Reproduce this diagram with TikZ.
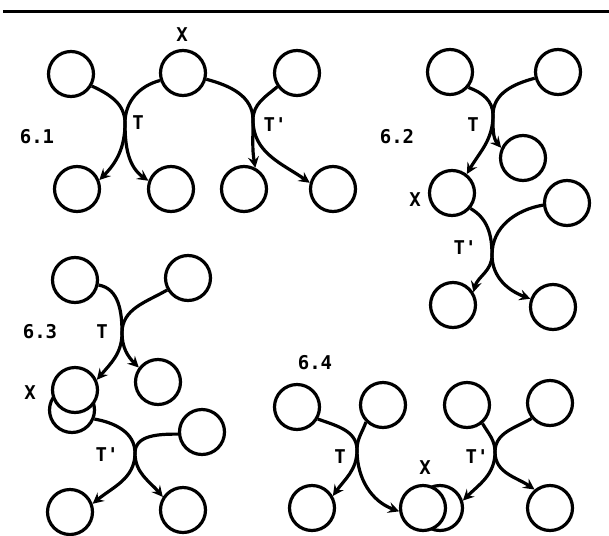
\documentclass[tikz,border=0pt]{standalone}
\usepackage{fontspec}
\setmonofont{DejaVu Sans Mono}
\usepackage{tikz}
\usetikzlibrary{arrows.meta}

\begin{document}
\begin{tikzpicture}[x=1pt,y=-1pt,
		state/.style={circle,draw,line width=3.2pt,minimum size=45pt,inner sep=0pt,fill=white},
		trans/.style={line width=3.2pt,-{Stealth[length=11pt,width=11pt,inset=4pt]}},
		lbl/.style={font=\ttfamily\bfseries\fontsize{19}{21}\selectfont,inner sep=0pt}]
			\useasboundingbox (0,0) rectangle (609,535);
			\draw[line width=3pt] (3,12) -- (609,12);
			
			% 6.1
			\node[lbl] (n61) at (37,137) {6.1};
			\node[state] (a1) at (71,74) {};
			\node[state] (x1) at (183,73) {};
			\node[state] (b1) at (297,73) {};
			\node[state] (c1) at (77,189) {};
			\node[state] (d1) at (171,189) {};
			\node[state] (e1) at (244,189) {};
			\node[state] (f1) at (333,189) {};
			\node[lbl] (lx1) at (182,35) {X};
			\node[lbl] (lt1) at (138,123) {T};
			\node[lbl] (lu1) at (275,125) {T'};
			\coordinate (t1) at (125,123);
			\coordinate (u1) at (253,120);
			\draw[trans] (a1.-30) to[out=-25,in=90] (t1) to[out=-90,in=145] (d1.160);
			\draw[trans] (x1.198) to[out=195,in=90] (t1) to[out=-90,in=45] (c1.22);
			\draw[trans] (x1.-15) to[out=-15,in=90] (u1) to[out=-90,in=145] (f1.165);
			\draw[trans] (b1.215) to[out=220,in=90] (u1) to[out=-90,in=100] (e1.62);
			
			% 6.2
			\node[lbl] (n62) at (397,137) {6.2};
			\node[state] (a2) at (450,72) {};
			\node[state] (b2) at (558,72) {};
			\node[state] (m2) at (523,158) {};
			\node[state] (x2) at (452,193) {};
			\node[state] (r2) at (567,203) {};
			\node[state] (c2) at (453,305) {};
			\node[state] (d2) at (553,307) {};
			\node[lbl] (lt2) at (473,125) {T};
			\node[lbl] (lx2) at (415,200) {X};
			\node[lbl] (lu2) at (465,248) {T'};
			\coordinate (t2) at (493,115);
			\coordinate (u2) at (492,255);
			\draw[trans] (a2.-40) to[out=-20,in=90] (t2) to[out=-90,in=130] (m2.155);
			\draw[trans] (b2.195) to[out=195,in=90] (t2) to[out=-90,in=60] (x2.52);
			\draw[trans] (x2.-40) to[out=-30,in=90] (u2) to[out=-90,in=75] (c2.32);
			\draw[trans] (r2.185) to[out=190,in=90] (u2) to[out=-90,in=160] (d2.160);
			
			% 6.3
			\node[lbl] (n63) at (40,332) {6.3};
			\node[state] (a3) at (75,280) {};
			\node[state] (b3) at (188,278) {};
			\node[state] (m3) at (158,382) {};
			\node[state] (y3) at (72,410) {};
			\node[state] (x3) at (75,390) {};
			\node[state] (r3) at (202,432) {};
			\node[state] (c3) at (70,512) {};
			\node[state] (d3) at (183,510) {};
			\node[lbl] (lt3) at (102,332) {T};
			\node[lbl] (lx3) at (30,393) {X};
			\node[lbl] (lu3) at (107,455) {T'};
			\coordinate (t3) at (122,333);
			\coordinate (u3) at (135,453);
			\draw[trans] (a3.-12) to[out=-10,in=90] (t3) to[out=-90,in=135] (m3.143);
			\draw[trans] (b3.210) to[out=210,in=90] (t3) to[out=-90,in=50] (x3.25);
			\draw[trans] (y3.-22) to[out=-10,in=90] (u3) to[out=-90,in=40] (c3.20);
			\draw[trans] (r3.185) to[out=180,in=90] (u3) to[out=-90,in=130] (d3.147);
			
			% 6.4
			\node[lbl] (n64) at (315,363) {6.4};
			\node[state] (a4) at (297,407) {};
			\node[state] (b4) at (383,405) {};
			\node[state] (g4) at (467,405) {};
			\node[state] (h4) at (550,403) {};
			\node[state] (c4) at (312,508) {};
			\node[state] (y4) at (440,508) {};
			\node[state] (x4) at (423,508) {};
			\node[state] (d4) at (550,508) {};
			\node[lbl] (lt4) at (340,457) {T};
			\node[lbl] (lu4) at (477,457) {T'};
			\node[lbl] (lx4) at (425,468) {X};
			\coordinate (t4) at (357,450);
			\coordinate (u4) at (495,452);
			\draw[trans] (a4.-30) to[out=-20,in=90] (t4) to[out=-90,in=160] (x4.188);
			\draw[trans] (b4.225) to[out=250,in=90] (t4) to[out=-90,in=55] (c4.30);
			\draw[trans] (g4.-50) to[out=-60,in=90] (u4) to[out=-90,in=45] (y4.18);
			\draw[trans] (h4.220) to[out=210,in=90] (u4) to[out=-90,in=145] (d4.130);
			
		\end{tikzpicture}
\end{document}
